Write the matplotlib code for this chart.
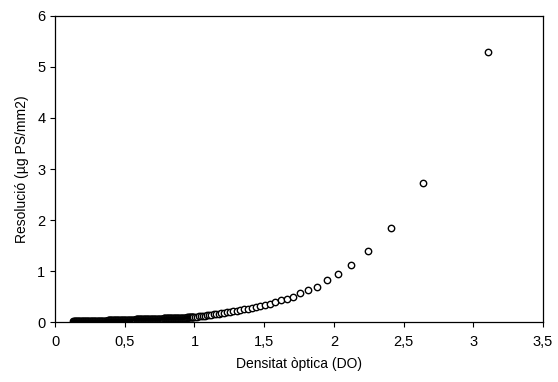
import matplotlib
matplotlib.use("Agg")
import matplotlib.pyplot as plt
from matplotlib.ticker import FixedLocator

plt.rcParams['font.family'] = ['Liberation Sans', 'DejaVu Sans']

# optical density (DO) of each calibration step, sparse high end first
do_sparse = [3.106, 2.640, 2.408, 2.243, 2.126, 2.033, 1.948, 1.879, 1.812,
             1.760, 1.709, 1.662, 1.620, 1.579, 1.542, 1.506, 1.472, 1.440,
             1.410, 1.381, 1.354, 1.328, 1.303, 1.279, 1.256, 1.234, 1.213,
             1.193, 1.174, 1.156, 1.138, 1.121, 1.105, 1.089, 1.074, 1.059,
             1.045, 1.031, 1.018, 1.005, 0.993]
res_sparse = [5.29, 2.72, 1.845, 1.40, 1.12, 0.94, 0.82, 0.70, 0.63,
              0.57, 0.50, 0.46, 0.435, 0.40, 0.36, 0.34, 0.32, 0.30,
              0.285, 0.27, 0.255, 0.243, 0.232, 0.22, 0.21, 0.198, 0.188,
              0.178, 0.17, 0.162, 0.155, 0.148, 0.142, 0.136, 0.131, 0.126,
              0.121, 0.117, 0.113, 0.109, 0.106]

# low-density steps, packed tightly near the axis
do_dense = [0.130, 0.135, 0.140, 0.145, 0.150, 0.155, 0.160, 0.165, 0.170, 0.175,
            0.180, 0.185, 0.190, 0.195, 0.200, 0.205, 0.210, 0.215, 0.220, 0.225,
            0.230, 0.235, 0.240, 0.245, 0.250, 0.255, 0.260, 0.265, 0.270, 0.275,
            0.280, 0.285, 0.290, 0.295, 0.300, 0.305, 0.310, 0.315, 0.320, 0.325,
            0.330, 0.335, 0.340, 0.345, 0.350, 0.355, 0.360, 0.365, 0.370, 0.375,
            0.380, 0.385, 0.390, 0.395, 0.400, 0.405, 0.410, 0.415, 0.420, 0.425,
            0.430, 0.435, 0.440, 0.445, 0.450, 0.455, 0.460, 0.465, 0.470, 0.475,
            0.480, 0.485, 0.490, 0.495, 0.500, 0.505, 0.510, 0.515, 0.520, 0.525,
            0.530, 0.535, 0.540, 0.545, 0.550, 0.555, 0.560, 0.565, 0.570, 0.575,
            0.580, 0.585, 0.590, 0.595, 0.600, 0.605, 0.610, 0.615, 0.620, 0.625,
            0.630, 0.635, 0.640, 0.645, 0.650, 0.655, 0.660, 0.665, 0.670, 0.675,
            0.680, 0.685, 0.690, 0.695, 0.700, 0.705, 0.710, 0.715, 0.720, 0.725,
            0.730, 0.735, 0.740, 0.745, 0.750, 0.755, 0.760, 0.765, 0.770, 0.775,
            0.780, 0.785, 0.790, 0.795, 0.800, 0.805, 0.810, 0.815, 0.820, 0.825,
            0.830, 0.835, 0.840, 0.845, 0.850, 0.855, 0.860, 0.865, 0.870, 0.875,
            0.880, 0.885, 0.890, 0.895, 0.900, 0.905, 0.910, 0.915, 0.920, 0.925,
            0.930, 0.935, 0.940, 0.945, 0.950, 0.955, 0.960, 0.965, 0.970, 0.975,
            0.980, 0.985, 0.990]
res_dense = [0.02, 0.02, 0.02, 0.02, 0.02, 0.02, 0.02, 0.02, 0.02, 0.02,
             0.02, 0.02, 0.02, 0.02, 0.02, 0.02, 0.02, 0.02, 0.02, 0.02,
             0.03, 0.03, 0.03, 0.03, 0.03, 0.03, 0.03, 0.03, 0.03, 0.03,
             0.03, 0.03, 0.03, 0.03, 0.03, 0.03, 0.03, 0.03, 0.03, 0.03,
             0.03, 0.03, 0.03, 0.03, 0.03, 0.03, 0.03, 0.03, 0.03, 0.03,
             0.04, 0.04, 0.04, 0.04, 0.04, 0.04, 0.04, 0.04, 0.04, 0.04,
             0.04, 0.04, 0.04, 0.04, 0.04, 0.04, 0.04, 0.04, 0.04, 0.04,
             0.05, 0.05, 0.05, 0.05, 0.05, 0.05, 0.05, 0.05, 0.05, 0.05,
             0.05, 0.05, 0.05, 0.05, 0.05, 0.05, 0.05, 0.05, 0.05, 0.05,
             0.06, 0.06, 0.06, 0.06, 0.06, 0.06, 0.06, 0.06, 0.06, 0.06,
             0.06, 0.06, 0.06, 0.06, 0.06, 0.06, 0.06, 0.06, 0.06, 0.06,
             0.07, 0.07, 0.07, 0.07, 0.07, 0.07, 0.07, 0.07, 0.07, 0.07,
             0.07, 0.07, 0.07, 0.07, 0.07, 0.07, 0.07, 0.07, 0.07, 0.07,
             0.08, 0.08, 0.08, 0.08, 0.08, 0.08, 0.08, 0.08, 0.08, 0.08,
             0.08, 0.08, 0.08, 0.08, 0.08, 0.08, 0.08, 0.08, 0.08, 0.08,
             0.09, 0.09, 0.09, 0.09, 0.09, 0.09, 0.09, 0.09, 0.09, 0.09,
             0.09, 0.09, 0.09, 0.09, 0.10, 0.10, 0.10, 0.10, 0.10, 0.10,
             0.10, 0.10, 0.10]

x_ticks = [0, 0.5, 1, 1.5, 2, 2.5, 3, 3.5]
x_tick_labels = ['0', '0,5', '1', '1,5', '2', '2,5', '3', '3,5']
y_ticks = [0, 1, 2, 3, 4, 5, 6]

fig = plt.figure(figsize=(5.58, 3.82), dpi=100)
ax = fig.add_axes([0.0986, 0.156, 0.8746, 0.803])

# draw in rising DO order so each step sits on top of the previous one
do_all = do_dense + do_sparse[::-1]
res_all = res_dense + res_sparse[::-1]
ax.plot(do_all, res_all, linestyle='none', marker='o', markersize=4.6,
        markerfacecolor='white', markeredgecolor='black', markeredgewidth=1.0)

ax.set_xlim(0, 3.5)
ax.set_ylim(0, 6)
ax.xaxis.set_major_locator(FixedLocator(x_ticks))
ax.set_xticklabels(x_tick_labels)
ax.yaxis.set_major_locator(FixedLocator(y_ticks))

for s in ax.spines.values():
    s.set_linewidth(0.9)
    s.set_color('black')
ax.tick_params(direction='out', length=3.5, width=0.8, labelsize=10.5,
               colors='black')
ax.tick_params(axis='x', pad=5.5)
ax.tick_params(axis='y', pad=3.5)

ax.set_xlabel('Densitat òptica (DO)', fontsize=10, labelpad=6)
ax.set_ylabel('Resolució (µg PS/mm2)', fontsize=10, labelpad=6)

fig.savefig('out.png', dpi=100)
